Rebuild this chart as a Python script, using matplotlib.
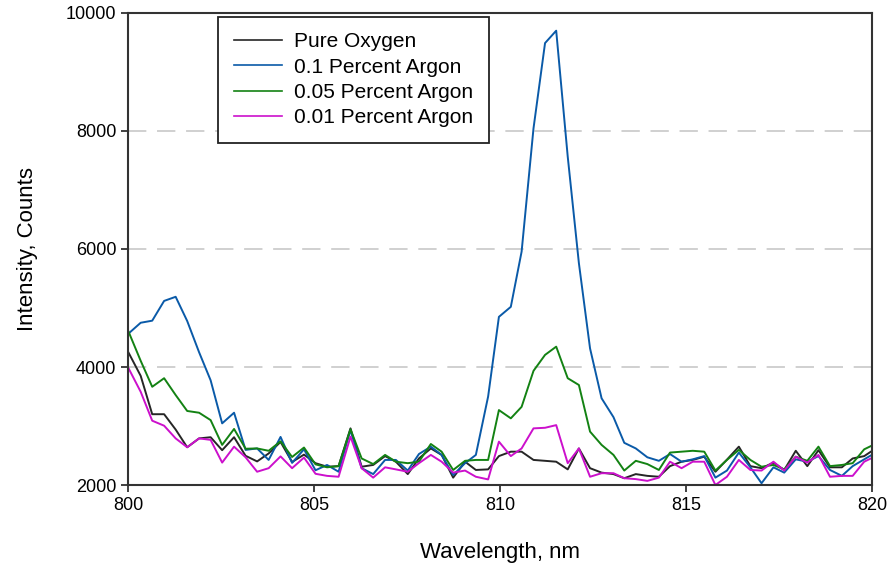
import matplotlib
matplotlib.use("Agg")
import matplotlib.pyplot as plt

# wavelength samples (nm)
wavelength = [
    800.00, 800.34, 800.65, 800.97, 801.28, 801.59, 801.91, 802.22, 802.53, 802.85,
    803.16, 803.47, 803.78, 804.10, 804.41, 804.73, 805.04, 805.35, 805.66, 805.98,
    806.28, 806.59, 806.91, 807.20, 807.52, 807.82, 808.14, 808.43, 808.74, 809.06,
    809.35, 809.68, 809.97, 810.29, 810.58, 810.90, 811.21, 811.51, 811.82, 812.12,
    812.42, 812.73, 813.05, 813.34, 813.65, 813.96, 814.27, 814.57, 814.88, 815.18,
    815.49, 815.79, 816.10, 816.42, 816.73, 817.03, 817.35, 817.64, 817.95, 818.26,
    818.56, 818.87, 819.19, 819.48, 819.79, 820.10,
]

pure_oxygen = [
    4260, 3850, 3200, 3200, 2940, 2640, 2790, 2810, 2590, 2810,
    2495, 2400, 2535, 2730, 2390, 2515, 2370, 2310, 2320, 2960,
    2310, 2340, 2490, 2395, 2185, 2450, 2620, 2510, 2125, 2395,
    2255, 2265, 2490, 2565, 2565, 2425, 2410, 2395, 2265, 2620,
    2285, 2210, 2185, 2115, 2185, 2155, 2140, 2320, 2395, 2425,
    2480, 2225, 2430, 2650, 2320, 2285, 2380, 2255, 2580, 2320,
    2590, 2300, 2300, 2450, 2490, 2620,
]

argon_010 = [
    4560, 4750, 4785, 5120, 5190, 4780, 4250, 3775, 3045, 3225,
    2595, 2620, 2425, 2815, 2375, 2605, 2250, 2340, 2225, 2930,
    2285, 2185, 2425, 2425, 2245, 2525, 2650, 2510, 2170, 2370,
    2510, 3500, 4850, 5020, 5955, 8045, 9490, 9700, 7565, 5760,
    4315, 3470, 3150, 2715, 2620, 2470, 2410, 2525, 2395, 2435,
    2490, 2125, 2245, 2550, 2300, 2030, 2300, 2210, 2435, 2395,
    2490, 2255, 2155, 2320, 2435, 2550,
]

argon_005 = [
    4620, 4105, 3665, 3810, 3525, 3255, 3225, 3100, 2680, 2950,
    2615, 2620, 2580, 2740, 2475, 2635, 2350, 2300, 2320, 2945,
    2450, 2355, 2510, 2395, 2370, 2395, 2695, 2565, 2255, 2410,
    2425, 2425, 3270, 3130, 3325, 3935, 4205, 4345, 3810, 3695,
    2905, 2680, 2510, 2245, 2410, 2355, 2255, 2550, 2565, 2580,
    2565, 2245, 2425, 2595, 2425, 2310, 2340, 2265, 2480, 2410,
    2650, 2320, 2340, 2370, 2605, 2700,
]

argon_001 = [
    3995, 3580, 3090, 3005, 2790, 2640, 2790, 2765, 2380, 2650,
    2470, 2225, 2285, 2485, 2285, 2465, 2190, 2155, 2140, 2820,
    2285, 2125, 2300, 2265, 2225, 2370, 2510, 2395, 2210, 2245,
    2140, 2095, 2735, 2490, 2620, 2960, 2970, 3015, 2370, 2620,
    2140, 2200, 2200, 2115, 2100, 2070, 2125, 2395, 2285, 2395,
    2395, 2000, 2140, 2425, 2255, 2245, 2395, 2245, 2480, 2380,
    2510, 2140, 2155, 2155, 2395, 2490,
]

labels = ["Pure Oxygen", "0.1 Percent Argon", "0.05 Percent Argon", "0.01 Percent Argon"]
colors = ["#262626", "#0a5aa8", "#138213", "#cc10cc"]
x_ticks = [800, 805, 810, 815, 820]
y_ticks = [2000, 4000, 6000, 8000, 10000]


def plot_spectra():
    plt.rcParams["font.family"] = ["Liberation Sans", "DejaVu Sans"]
    fig = plt.figure(figsize=(8.91, 5.67), dpi=100)
    ax = fig.add_axes([0.1437, 0.1446, 0.835, 0.8325])

    series = [pure_oxygen, argon_010, argon_005, argon_001]
    for vals, lab, col in zip(series, labels, colors):
        ax.plot(wavelength, vals, color=col, lw=1.4, label=lab)

    ax.set_xlim(800, 820)
    ax.set_ylim(2000, 10000)
    ax.set_xticks(x_ticks)
    ax.set_yticks(y_ticks)
    ax.tick_params(direction="out", length=5, width=1.3, labelsize=13,
                   color="#333333")

    ax.yaxis.grid(True, color="#c4c4c4", lw=1.1, dashes=(12, 7))
    ax.set_axisbelow(True)
    for sp in ax.spines.values():
        sp.set_color("#333333")
        sp.set_linewidth(1.5)

    ax.set_xlabel("Wavelength, nm", fontsize=16, labelpad=20)
    ax.set_ylabel("Intensity, Counts", fontsize=16, labelpad=20)

    leg = ax.legend(loc="upper left", bbox_to_anchor=(0.121, 0.992),
                    borderaxespad=0, fontsize=15, fancybox=False,
                    framealpha=1, edgecolor="#222222", handlelength=2.3,
                    handletextpad=0.6, labelspacing=0.3, borderpad=0.75)
    leg.get_frame().set_linewidth(1.3)
    for h in leg.get_lines():
        h.set_linewidth(1.2)

    fig.savefig("out.png", dpi=100)


if __name__ == "__main__":
    plot_spectra()
